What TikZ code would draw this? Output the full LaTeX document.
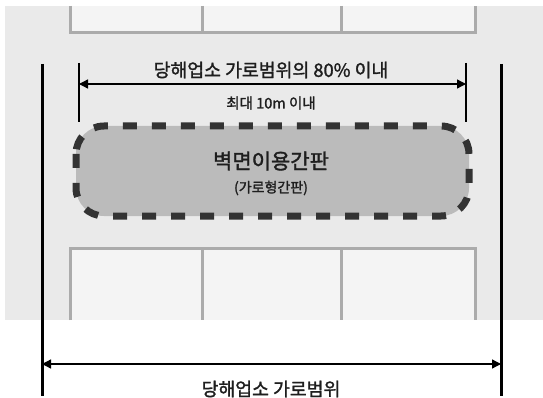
\documentclass[tikz,border=0pt]{standalone}
\usepackage{fontspec}
\newfontfamily\kr[FakeBold=1.6]{Noto Sans CJK KR}
\usetikzlibrary{arrows.meta}
\definecolor{bggray}{HTML}{EAEAEA}
\definecolor{cellgray}{HTML}{F4F4F4}
\definecolor{winline}{HTML}{ABABAB}
\definecolor{boxfill}{HTML}{BBBBBB}
\definecolor{dashcol}{HTML}{333333}
\definecolor{txtcol}{HTML}{1E1E1E}
\tikzset{
  winstyle/.style={draw=winline, line width=3pt},
  bigbar/.style={draw=black, line width=3pt},
  thinbar/.style={draw=black, line width=1.3pt},
  dimarrow/.style={draw=black, line width=1.3pt, {Triangle[length=9pt,width=9pt]}-{Triangle[length=9pt,width=9pt]}},
  lbl/.style={font=\kr, text=txtcol, inner sep=0pt},
  signbox/.style={draw=dashcol, fill=boxfill, line width=7pt, dash pattern=on 14pt off 15pt, rounded corners=28pt}
}
\begin{document}
\begin{tikzpicture}[x=1pt,y=-1pt]
\useasboundingbox (0,0) rectangle (543,398);
% background
\fill[white] (0,0) rectangle (543,398);
\fill[bggray] (5,6) rectangle (543,320);
% top windows
\fill[cellgray] (70,6) rectangle (475,33);
\draw[winstyle] (70,6) -- (70,33) -- (475,33) -- (475,6);
\draw[winstyle] (202,6) -- (202,33);
\draw[winstyle] (341,6) -- (341,33);
% bottom windows
\fill[cellgray] (70,248) rectangle (475,320);
\draw[winstyle] (70,320) -- (70,248) -- (475,248) -- (475,320);
\draw[winstyle] (202,248) -- (202,320);
\draw[winstyle] (341,248) -- (341,320);
% outer bars
\coordinate (LT) at (42,64);
\coordinate (LB) at (42,396);
\coordinate (RT) at (501,64);
\coordinate (RB) at (501,396);
\draw[bigbar] (LT) -- (LB);
\draw[bigbar] (RT) -- (RB);
% inner bars
\coordinate (ILT) at (79,63);
\coordinate (ILB) at (79,122);
\coordinate (IRT) at (466,63);
\coordinate (IRB) at (466,122);
\draw[thinbar] (ILT) -- (ILB);
\draw[thinbar] (IRT) -- (IRB);
% inner dimension arrow
\coordinate (IA1) at (79,84);
\coordinate (IA2) at (466,84);
\draw[dimarrow] (IA1) -- (IA2);
\node[lbl, font=\kr\fontsize{18.3}{19}\selectfont] (t1) at (271,70) {당해업소 가로범위의 80\% 이내};
\node[lbl, font=\kr\fontsize{14.5}{16}\selectfont] (t2) at (271,103) {최대 10m 이내};
% sign box
\draw[signbox] (76,126) rectangle (469,216);
\node[lbl, font=\kr\fontsize{21}{22}\selectfont] (s1) at (271,161) {벽면이용간판};
\node[lbl, font=\kr\fontsize{14}{15}\selectfont] (s2) at (271,188) {(가로형간판)};
% bottom dimension
\coordinate (BA1) at (42,364);
\coordinate (BA2) at (501,364);
\draw[dimarrow] (BA1) -- (BA2);
\node[lbl, font=\kr\fontsize{18.3}{19}\selectfont] (t3) at (271,389) {당해업소 가로범위};
\end{tikzpicture}
\end{document}
